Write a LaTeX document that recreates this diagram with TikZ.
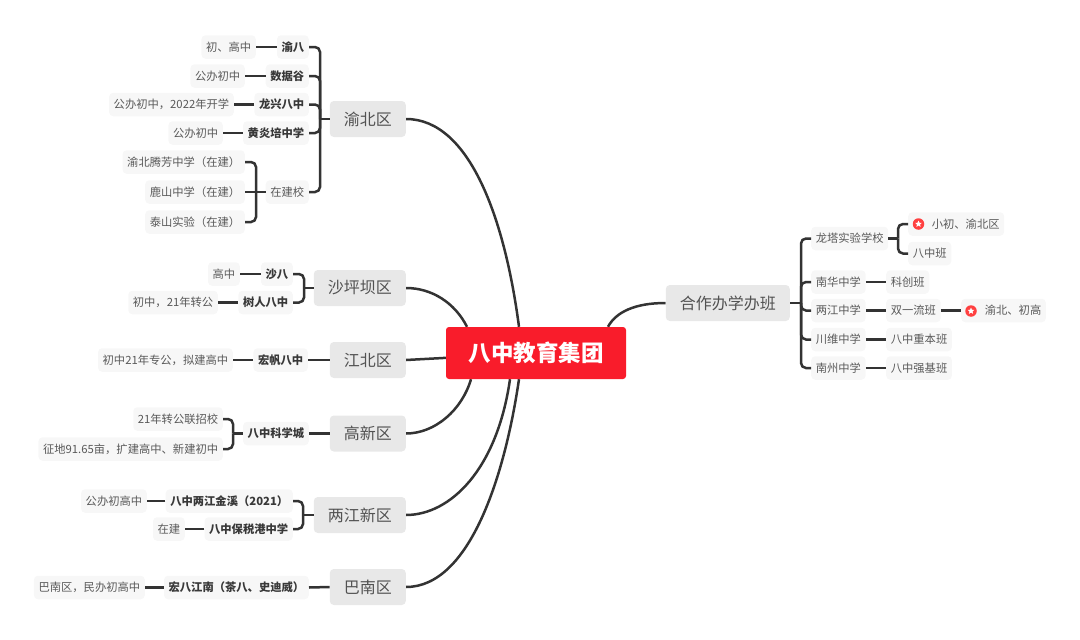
\documentclass[tikz,border=0pt]{standalone}
\usepackage{fontspec}
\setmainfont{Noto Sans CJK SC}
\usetikzlibrary{backgrounds,shapes.geometric}
\definecolor{rootred}{HTML}{F91C2B}
\definecolor{linkgray}{HTML}{333333}
\tikzset{
  root/.style={fill=rootred,rounded corners=3pt,text=white,font=\fontsize{22.5}{26}\selectfont\bfseries,minimum width=180pt,minimum height=52pt,inner sep=0pt},
  zone/.style={fill=black!9,rounded corners=4pt,text=black!68,font=\fontsize{16}{20}\selectfont,minimum height=36pt,inner xsep=14pt,inner ysep=0pt},
  leaf/.style={fill=black!3,rounded corners=4pt,text=black!65,font=\fontsize{11.3}{14}\selectfont,minimum height=23.5pt,inner xsep=4.6pt,inner ysep=0pt},
  school/.style={leaf,text=black!78,font=\fontsize{11.3}{14}\selectfont\bfseries},
  link/.style={draw=linkgray,line width=2.5pt},
  bracket/.style={link,rounded corners=5pt},
  icondot/.style={circle,fill=red!75!white,minimum size=11.5pt,inner sep=0pt},
  iconstar/.style={star,star points=5,star point ratio=2.2,fill=white,minimum size=7pt,inner sep=0pt}
}
\begin{document}
\begin{tikzpicture}[x=1pt,y=-1pt]
\useasboundingbox (0,0) rectangle (1080,640);
%% root
\node[root] (root) at (536,353) {八中教育集团};
%% zones
\node[zone,anchor=east] (YB) at (406,119) {渝北区};
\node[zone,anchor=east] (SPB) at (406,288) {沙坪坝区};
\node[zone,anchor=east] (JB) at (406,360) {江北区};
\node[zone,anchor=east] (GX) at (406,433.5) {高新区};
\node[zone,anchor=east] (LJ) at (406,515) {两江新区};
\node[zone,anchor=east] (BN) at (406,587) {巴南区};
\node[zone,anchor=east] (HZ) at (790,303) {合作办学办班};
%% yubei
\node[school,anchor=east] (YB1) at (309,47) {渝八};
\node[leaf,anchor=east] (YB1a) at (256,47) {初、高中};
\node[school,anchor=east] (YB2) at (309,76) {数据谷};
\node[leaf,anchor=east] (YB2a) at (245,76) {公办初中};
\node[school,anchor=east] (YB3) at (309,104.5) {龙兴八中};
\node[leaf,anchor=east] (YB3a) at (234,104.5) {公办初中，2022年开学};
\node[school,anchor=east] (YB4) at (309,133) {黄炎培中学};
\node[leaf,anchor=east] (YB4a) at (223,133) {公办初中};
\node[leaf,anchor=east] (YB5) at (309,192) {在建校};
\node[leaf,anchor=east] (YB5a) at (245,162) {渝北腾芳中学（在建）};
\node[leaf,anchor=east] (YB5b) at (245,192) {鹿山中学（在建）};
\node[leaf,anchor=east] (YB5c) at (245,222) {泰山实验（在建）};
%% shapingba
\node[school,anchor=east] (SPB1) at (293,274) {沙八};
\node[leaf,anchor=east] (SPB1a) at (240,274) {高中};
\node[school,anchor=east] (SPB2) at (293,302.5) {树人八中};
\node[leaf,anchor=east] (SPB2a) at (218,302.5) {初中，21年转公};
%% jiangbei
\node[school,anchor=east] (JB1) at (308,360) {宏帆八中};
\node[leaf,anchor=east] (JB1a) at (233,360) {初中21年专公，拟建高中};
%% gaoxin
\node[school,anchor=east] (GX1) at (309,433.5) {八中科学城};
\node[leaf,anchor=east] (GX1a) at (223,419) {21年转公联招校};
\node[leaf,anchor=east] (GX1b) at (223,449) {征地91.65亩，扩建高中、新建初中};
%% liangjiang
\node[school,anchor=east] (LJ1) at (293,501) {八中两江金溪（2021）};
\node[leaf,anchor=east] (LJ1a) at (147,501) {公办初高中};
\node[school,anchor=east] (LJ2) at (293,529) {八中保税港中学};
\node[leaf,anchor=east] (LJ2a) at (185,529) {在建};
%% banan
\node[school,anchor=east] (BN1) at (309,587.5) {宏八江南（茶八、史迪威）};
\node[leaf,anchor=east] (BN1a) at (145,587.5) {巴南区，民办初高中};
%% hezuo
\node[leaf,anchor=west] (HZ1) at (811,238.5) {龙塔实验学校};
\node[leaf,anchor=west] (HZ1a) at (908,224) {\hspace{19pt}小初、渝北区};
\node[leaf,anchor=west] (HZ1b) at (908,253.5) {八中班};
\node[leaf,anchor=west] (HZ2) at (811,282) {南华中学};
\node[leaf,anchor=west] (HZ2a) at (886,282) {科创班};
\node[leaf,anchor=west] (HZ3) at (811,310.5) {两江中学};
\node[leaf,anchor=west] (HZ3a) at (886,310.5) {双一流班};
\node[leaf,anchor=west] (HZ3b) at (961,310.5) {\hspace{19pt}渝北、初高};
\node[leaf,anchor=west] (HZ4) at (811,339.5) {川维中学};
\node[leaf,anchor=west] (HZ4a) at (886,339.5) {八中重本班};
\node[leaf,anchor=west] (HZ5) at (811,368) {南州中学};
\node[leaf,anchor=west] (HZ5a) at (886,368) {八中强基班};
%% icons
\node[icondot] (dotA) at (918.5,224) {};
\node[iconstar] (starA) at (918.5,224) {};
\node[icondot] (dotB) at (971,311) {};
\node[iconstar] (starB) at (971,311) {};
%% joints
\coordinate (jYB) at (320,119);
\coordinate (jYB5) at (256,192);
\coordinate (jSPB) at (304,288);
\coordinate (jGX) at (233,433.5);
\coordinate (jLJ) at (303,515);
\coordinate (jHZ) at (801,303);
\coordinate (jHZ1) at (898,238.5);
%%% edges
\begin{scope}[on background layer]
\draw[link] (YB.east) .. controls (470,119) and (505,220) .. ([xshift=-17pt]root.north);
\draw[link] (SPB.east) .. controls (432,288) and (455,303) .. ([xshift=-69pt]root.north);
\draw[link] (JB.east) -- (root);
\draw[link] (GX.east) .. controls (435,433.5) and (462,410) .. ([xshift=-65pt]root.south);
\draw[link] (LJ.east) .. controls (450,515) and (497,470) .. ([xshift=-26pt]root.south);
\draw[link] (BN.east) .. controls (470,587) and (505,475) .. ([xshift=-17pt]root.south);
\draw[link] (HZ.west) .. controls (635,303) and (616,312) .. ([xshift=72pt]root.north);
\end{scope}
%%% yubei edges
\draw[link] (YB.west) -- (jYB);
\draw[bracket] (jYB) |- (YB1.east);
\draw[bracket] (jYB) |- (YB2.east);
\draw[bracket] (jYB) |- (YB3.east);
\draw[bracket] (jYB) |- (YB4.east);
\draw[bracket] (jYB) |- (YB5.east);
\draw[link] (YB1.west) -- (YB1a.east);
\draw[link] (YB2.west) -- (YB2a.east);
\draw[link] (YB3.west) -- (YB3a.east);
\draw[link] (YB4.west) -- (YB4a.east);
\draw[link] (YB5.west) -- (jYB5);
\draw[bracket] (jYB5) |- (YB5a.east);
\draw[link] (jYB5) -- (YB5b.east);
\draw[bracket] (jYB5) |- (YB5c.east);
%%% shapingba edges
\draw[link] (SPB.west) -- (jSPB);
\draw[bracket] (jSPB) |- (SPB1.east);
\draw[bracket] (jSPB) |- (SPB2.east);
\draw[link] (SPB1.west) -- (SPB1a.east);
\draw[link] (SPB2.west) -- (SPB2a.east);
%%% jiangbei edges
\draw[link] (JB.west) -- (JB1.east);
\draw[link] (JB1.west) -- (JB1a.east);
%%% gaoxin edges
\draw[link] (GX.west) -- (GX1.east);
\draw[link] (GX1.west) -- (jGX);
\draw[bracket] (jGX) |- (GX1a.east);
\draw[bracket] (jGX) |- (GX1b.east);
%%% liangjiang edges
\draw[link] (LJ.west) -- (jLJ);
\draw[bracket] (jLJ) |- (LJ1.east);
\draw[bracket] (jLJ) |- (LJ2.east);
\draw[link] (LJ1.west) -- (LJ1a.east);
\draw[link] (LJ2.west) -- (LJ2a.east);
%%% banan edges
\draw[link] (BN.west) -- (BN1.east);
\draw[link] (BN1.west) -- (BN1a.east);
%%% hezuo edges
\draw[link] (HZ.east) -- (jHZ);
\draw[bracket] (jHZ) |- (HZ1.west);
\draw[bracket] (jHZ) |- (HZ2.west);
\draw[bracket] (jHZ) |- (HZ3.west);
\draw[bracket] (jHZ) |- (HZ4.west);
\draw[bracket] (jHZ) |- (HZ5.west);
\draw[link] (HZ1.east) -- (jHZ1);
\draw[bracket] (jHZ1) |- (HZ1a.west);
\draw[bracket] (jHZ1) |- (HZ1b.west);
\draw[link] (HZ2.east) -- (HZ2a.west);
\draw[link] (HZ3.east) -- (HZ3a.west);
\draw[link] (HZ3a.east) -- (HZ3b.west);
\draw[link] (HZ4.east) -- (HZ4a.west);
\draw[link] (HZ5.east) -- (HZ5a.west);
\end{tikzpicture}
\end{document}
